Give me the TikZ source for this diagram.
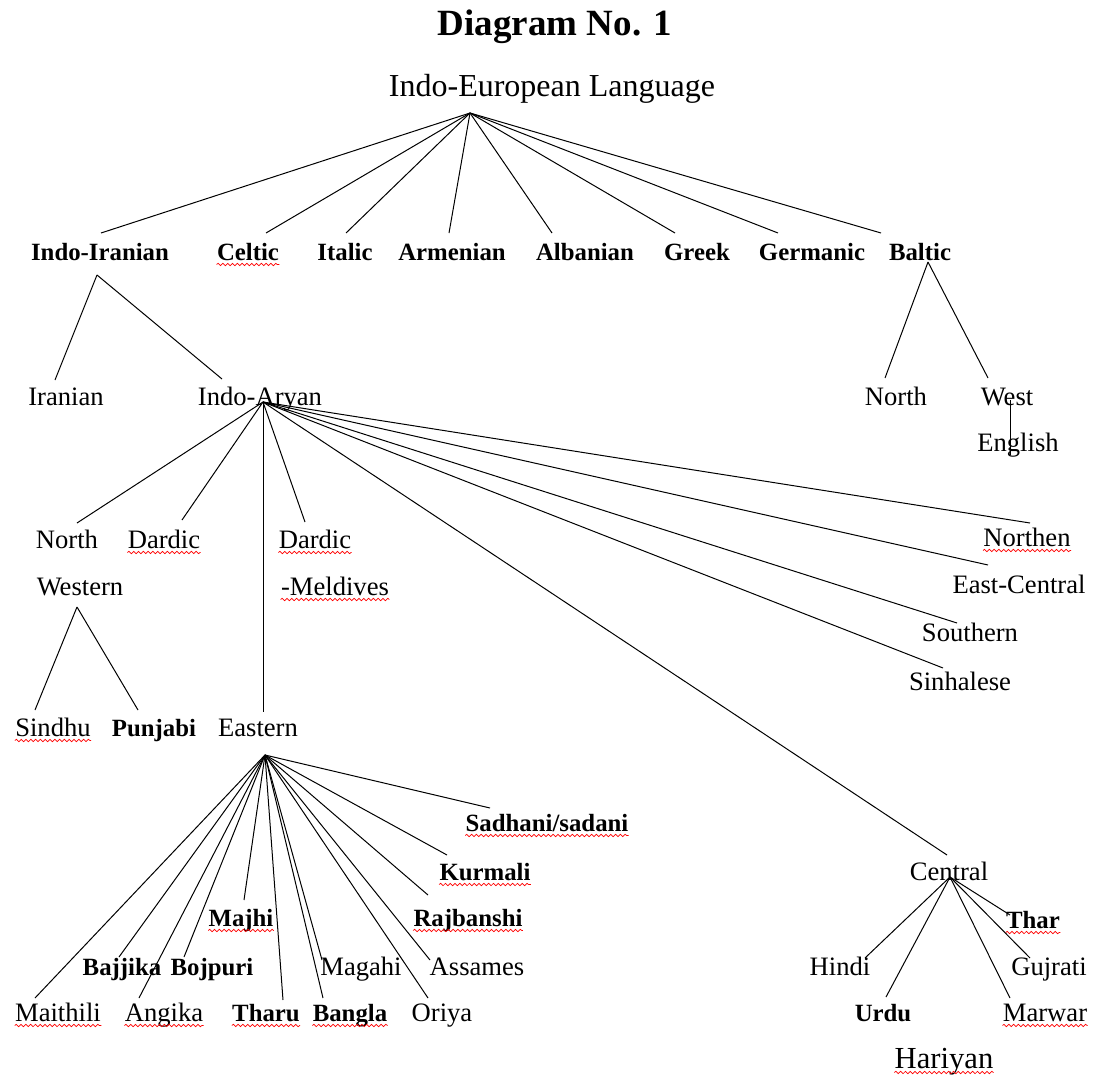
\documentclass[tikz,border=0pt]{standalone}
\usepackage{fontspec}
\setmainfont{Liberation Serif}
\usetikzlibrary{decorations.pathmorphing}

\begin{document}
\begin{tikzpicture}[x=.5pt,y=-.5pt,
  lbl/.style={inner xsep=0pt,inner ysep=2pt,text height=2.1ex,text depth=.25ex,font=\fontsize{13.3}{15}\selectfont},
  blbl/.style={lbl,font=\fontsize{12.4}{15}\selectfont\bfseries},
  link/.style={line width=.5pt},
  spell/.style={red,line width=.35pt,decorate,decoration={snake,amplitude=.6pt,segment length=2.4pt}}]
\useasboundingbox (0,0) rectangle (1096,1081);

\node[lbl,font=\fontsize{18.5}{20}\selectfont\bfseries] (title) at (555,27) {Diagram No. 1};
\node[lbl,font=\fontsize{16}{18}\selectfont] (root) at (552,88) {Indo-European Language};

\node[blbl] (iir) at (100,252) {Indo-Iranian};
\node[blbl] (cel) at (248,252) {Celtic};
\node[blbl] (ita) at (345,252) {Italic};
\node[blbl] (arm) at (452,252) {Armenian};
\node[blbl] (alb) at (585,252) {Albanian};
\node[blbl] (gre) at (697,252) {Greek};
\node[blbl] (ger) at (812,252) {Germanic};
\node[blbl] (bal) at (920,252) {Baltic};

\node[lbl] (ira) at (66,397) {Iranian};
\node[lbl] (iar) at (260,397) {Indo-Aryan};
\node[lbl] (bno) at (896,397) {North};
\node[lbl] (bwe) at (1007,397) {West};
\node[lbl] (eng) at (1018,443) {English};

\node[lbl] (nw1) at (67,540) {North};
\node[lbl] (nw2) at (80,587) {Western};
\node[lbl] (dar) at (164,540) {Dardic};
\node[lbl] (dm1) at (315,540) {Dardic};
\node[lbl] (dm2) at (335,587) {-Meldives};
\node[lbl] (nor) at (1027,538) {Northen};
\node[lbl] (ecn) at (1019,585) {East-Central};
\node[lbl] (sou) at (970,633) {Southern};
\node[lbl] (sin) at (960,682) {Sinhalese};

\node[lbl] (sdh) at (53,728) {Sindhu};
\node[blbl] (pun) at (154,728) {Punjabi};
\node[lbl] (eas) at (258,728) {Eastern};

\node[blbl] (sad) at (547,823) {Sadhani/sadani};
\node[blbl] (kur) at (485,872) {Kurmali};
\node[blbl] (maj) at (241,918) {Majhi};
\node[blbl] (raj) at (468,918) {Rajbanshi};
\node[blbl] (baj) at (122,967) {Bajjika};
\node[blbl] (boj) at (212,967) {Bojpuri};
\node[lbl] (mag) at (361,967) {Magahi};
\node[lbl] (ass) at (477,967) {Assames};
\node[lbl] (mai) at (58,1013) {Maithili};
\node[lbl] (ang) at (164,1013) {Angika};
\node[blbl] (tha) at (266,1013) {Tharu};
\node[blbl] (ban) at (350,1013) {Bangla};
\node[lbl] (ori) at (442,1013) {Oriya};

\node[lbl] (cen) at (949,872) {Central};
\node[blbl] (thr) at (1033,920) {Thar};
\node[lbl] (hin) at (840,967) {Hindi};
\node[lbl] (guj) at (1049,967) {Gujrati};
\node[blbl] (urd) at (883,1013) {Urdu};
\node[lbl] (mar) at (1045,1013) {Marwar};
\node[lbl,font=\fontsize{15.3}{17}\selectfont] (har) at (944,1060) {Hariyan};

\coordinate (ieFoot) at ([shift={(-82,25)}]root.center);
\coordinate (iiFoot) at ([shift={(-3,23)}]iir.center);
\coordinate (baFoot) at ([shift={(8,10)}]bal.center);
\coordinate (iaFoot) at ([shift={(3,5)}]iar.center);
\coordinate (nwFoot) at ([shift={(-3,20)}]nw2.center);
\coordinate (eaFoot) at ([shift={(7,27)}]eas.center);
\coordinate (ceFoot) at ([shift={(1,5)}]cen.center);

\foreach \n/\dx/\dy in {iir/1/-19,cel/18/-19,ita/1/-19,arm/-3/-19,alb/-33/-19,gre/-22/-19,ger/-34/-19,bal/-39/-19}
{
    \draw[link] (ieFoot) -- ([shift={(\dx,\dy)}]\n.center);
}
\foreach \n/\dx/\dy in {ira/-11/-17,iar/-38/-18}
{
    \draw[link] (iiFoot) -- ([shift={(\dx,\dy)}]\n.center);
}
\foreach \n/\dx/\dy in {bno/-11/-19,bwe/-19/-19}
{
    \draw[link] (baFoot) -- ([shift={(\dx,\dy)}]\n.center);
}
\draw[link] ([shift={(3,3)}]bwe.center) -- ([shift={(-8,12)}]eng.center);
\foreach \n/\dx/\dy in {nw1/10/-17,dar/18/-20,eas/5/-16,dm1/-10/-18,nor/3/-15,ecn/-31/-20,sou/-13/-10,sin/-17/-14,cen/-2/-17}
{
    \draw[link] (iaFoot) -- ([shift={(\dx,\dy)}]\n.center);
}
\foreach \n/\dx/\dy in {sdh/-18/-18,pun/-16/-18}
{
    \draw[link] (nwFoot) -- ([shift={(\dx,\dy)}]\n.center);
}
\foreach \n/\dx/\dy in {sad/-57/-15,kur/-38/-17,raj/-40/-23,ass/-47/-7,ori/-14/-15,mag/-39/-7,ban/-27/-15,tha/17/-13,maj/3/-18,boj/-28/-10,baj/-3/-10,ang/-25/-15,mai/-23/-15}
{
    \draw[link] (eaFoot) -- ([shift={(\dx,\dy)}]\n.center);
}
\foreach \n/\dx/\dy in {thr/-23/-5,guj/-19/-9,mar/-35/-15,urd/3/-16,hin/25/-9}
{
    \draw[link] (ceFoot) -- ([shift={(\dx,\dy)}]\n.center);
}

\foreach \n in {cel,dar,dm1,dm2,nor,sdh,mai,ang,tha,ban,maj,raj,kur,sad,thr,mar,har}
{
    \draw[spell] ([yshift=-2pt]\n.base west) -- ([yshift=-2pt]\n.base east);
}
\end{tikzpicture}
\end{document}
